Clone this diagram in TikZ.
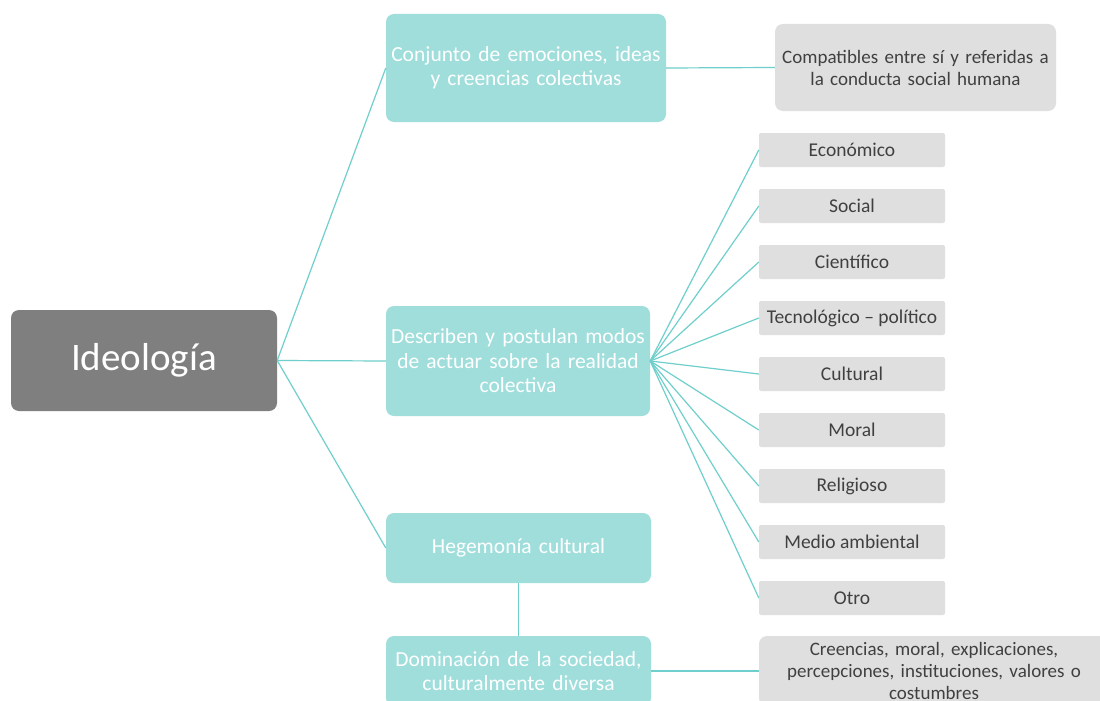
\documentclass[tikz,border=0pt]{standalone}
\usepackage{fontspec}
\setmainfont{Carlito}
\usepackage{tikz}
\definecolor{boxteal}{HTML}{A0DEDC}
\definecolor{lineteal}{HTML}{6FCFCC}
\definecolor{boxgray}{HTML}{DFDFDF}
\definecolor{darkgray}{HTML}{7F7F7F}
\definecolor{textgray}{HTML}{404040}

\begin{document}
\begin{tikzpicture}[x=1pt,y=-1pt,
  link/.style={draw=lineteal,line width=1.2pt},
  root/.style={fill=darkgray,rounded corners=8pt,text=white,align=center,
    minimum width=266pt,minimum height=101pt,font=\fontsize{39}{44}\selectfont},
  idea/.style={fill=boxteal,rounded corners=8pt,text=white,align=center,
    inner sep=0pt,font=\fontsize{21.5}{24.5}\selectfont},
  note/.style={fill=boxgray,rounded corners=8pt,text=textgray,align=center,
    inner sep=0pt,font=\fontsize{19}{22}\selectfont},
  kind/.style={fill=boxgray,rounded corners=2pt,text=textgray,align=center,
    minimum width=186pt,minimum height=34pt,inner sep=1pt,font=\fontsize{19.5}{22}\selectfont}]
\path[use as bounding box,clip] (0,0) rectangle (1100,701);
\fill[white] (0,0) rectangle (1100,701);
\node[root] (ideo) at (144,360.5) {Ideología};
\node[idea,minimum width=280pt,minimum height=108pt,text width=280pt] (conj) at (526,68) {Conjunto de emociones, ideas\\ y creencias colectivas};
\node[idea,minimum width=264pt,minimum height=110pt,text width=264pt] (desc) at (518,361) {Describen y postulan modos\\ de actuar sobre la realidad\\ colectiva};
\node[idea,minimum width=265pt,minimum height=70pt,text width=265pt] (hege) at (518.5,548) {Hegemonía cultural};
\node[idea,minimum width=265pt,minimum height=70pt,text width=265pt] (domi) at (518.5,671) {Dominación de la sociedad,\\ culturalmente diversa};
\node[note,minimum width=281pt,minimum height=87pt,text width=281pt] (comp) at (915.5,67.5) {Compatibles entre sí y referidas a\\ la conducta social humana};
\node[kind] (econ) at (852,150) {Económico};
\node[kind] (soci) at (852,206) {Social};
\node[kind] (cien) at (852,262) {Científico};
\node[kind] (tecn) at (852,318) {Tecnológico – político};
\node[kind] (cult) at (852,374) {Cultural};
\node[kind] (mora) at (852,430) {Moral};
\node[kind] (reli) at (852,486) {Religioso};
\node[kind] (medi) at (852,542) {Medio ambiental};
\node[kind] (otro) at (852,598) {Otro};
\node[note,minimum width=350pt,minimum height=70pt,text width=350pt] (cree) at (934,671) {Creencias, moral, explicaciones,\\ percepciones, instituciones, valores o\\ costumbres};
\draw[link] (ideo.east) -- (conj.west);
\draw[link] (ideo.east) -- (desc.west);
\draw[link] (ideo.east) -- (hege.west);
\draw[link] (conj.east) -- (comp.west);
\draw[link] (desc.east) -- (econ.west);
\draw[link] (desc.east) -- (soci.west);
\draw[link] (desc.east) -- (cien.west);
\draw[link] (desc.east) -- (tecn.west);
\draw[link] (desc.east) -- (cult.west);
\draw[link] (desc.east) -- (mora.west);
\draw[link] (desc.east) -- (reli.west);
\draw[link] (desc.east) -- (medi.west);
\draw[link] (desc.east) -- (otro.west);
\draw[link] (hege.south) -- (domi.north);
\draw[link] (domi.east) -- (cree.west);
\end{tikzpicture}
\end{document}
